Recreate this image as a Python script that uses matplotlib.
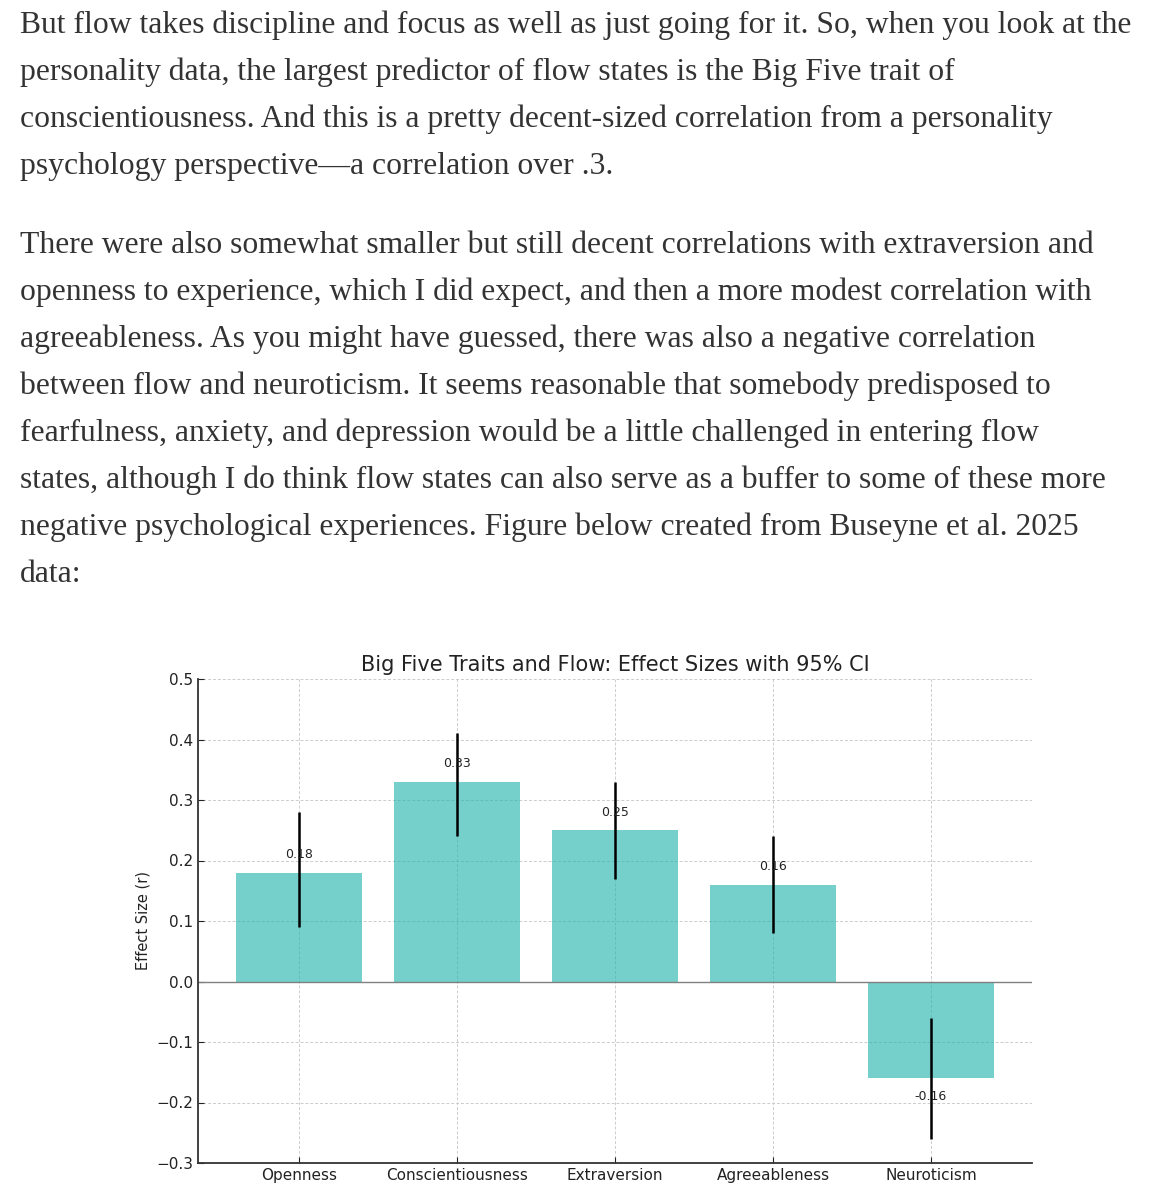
import matplotlib
matplotlib.use("Agg")
import matplotlib.pyplot as plt

# text above the chart, one entry per printed line
para1 = [
    "But flow takes discipline and focus as well as just going for it. So, when you look at the",
    "personality data, the largest predictor of flow states is the Big Five trait of",
    "conscientiousness. And this is a pretty decent-sized correlation from a personality",
    "psychology perspective\u2014a correlation over .3.",
]
para2 = [
    "There were also somewhat smaller but still decent correlations with extraversion and",
    "openness to experience, which I did expect, and then a more modest correlation with",
    "agreeableness. As you might have guessed, there was also a negative correlation",
    "between flow and neuroticism. It seems reasonable that somebody predisposed to",
    "fearfulness, anxiety, and depression would be a little challenged in entering flow",
    "states, although I do think flow states can also serve as a buffer to some of these more",
    "negative psychological experiences. Figure below created from Buseyne et al. 2025",
    "data:",
]

# chart data
traits = ["Openness", "Conscientiousness", "Extraversion", "Agreeableness", "Neuroticism"]
effect = [0.18, 0.33, 0.25, 0.16, -0.16]
ci_low = [0.09, 0.24, 0.17, 0.08, -0.26]
ci_high = [0.28, 0.41, 0.33, 0.24, -0.06]

W, H = 1160, 1200
fig = plt.figure(figsize=(W / 100, H / 100), dpi=100)

txt_color = "#333333"
body_size = 22.8
y = 33
for line in para1:
    fig.text(20 / W, 1 - y / H, line, family="Liberation Serif", fontsize=body_size,
             color=txt_color, va="baseline", ha="left")
    y += 47
y = 253
for line in para2:
    fig.text(20 / W, 1 - y / H, line, family="Liberation Serif", fontsize=body_size,
             color=txt_color, va="baseline", ha="left")
    y += 47

# chart
ax = fig.add_axes([198 / W, 1 - 1163 / H, (1032 - 198) / W, (1163 - 679) / H])
x = list(range(len(traits)))
yerr = [[e - lo for e, lo in zip(effect, ci_low)],
        [hi - e for e, hi in zip(effect, ci_high)]]
ax.bar(x, effect, width=0.8, color="lightseagreen", alpha=0.62, zorder=2)
ax.errorbar(x, effect, yerr=yerr, fmt="none", ecolor="black", elinewidth=1.8,
            capsize=0, zorder=3)
ax.axhline(0, color="gray", linewidth=1, zorder=2.5)

for xi, v in zip(x, effect):
    off = 0.03 if v > 0 else -0.03
    ax.text(xi, v + off, f"{v:.2f}", ha="center", va="center", fontsize=9,
            color="#222222", zorder=4)

ax.set_ylim(-0.3, 0.5)
ax.set_yticks([-0.3, -0.2, -0.1, 0.0, 0.1, 0.2, 0.3, 0.4, 0.5])
ax.set_xticks(x)
ax.set_xticklabels(traits)
ax.set_ylabel("Effect Size (r)", fontsize=10.5, color="#222222")
ax.set_title("Big Five Traits and Flow: Effect Sizes with 95% CI", fontsize=15,
             color="#222222", pad=6)
ax.tick_params(direction="in", length=4, labelsize=11, colors="#222222")
ax.grid(True, linestyle=(0, (3, 2)), linewidth=0.7, color="#cccccc", zorder=1)
ax.set_axisbelow(True)
for s in ["top", "right"]:
    ax.spines[s].set_visible(False)
for s in ["left", "bottom"]:
    ax.spines[s].set_color("#333333")
    ax.spines[s].set_linewidth(1.3)

fig.savefig("out.png", dpi=100)
